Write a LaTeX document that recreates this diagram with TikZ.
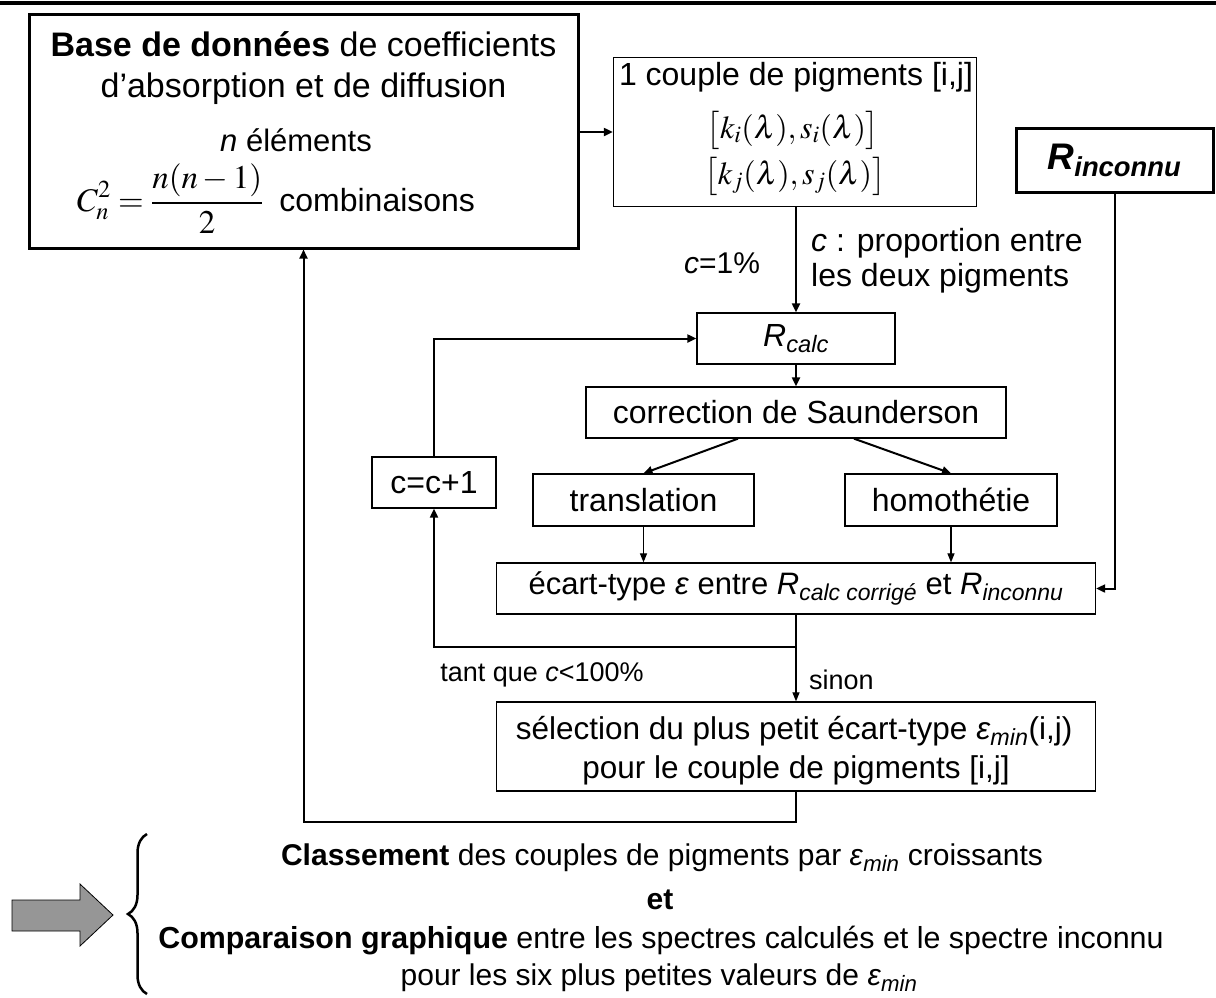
\documentclass[tikz,border=0pt]{standalone}
\usepackage{mathptmx}
\usepackage{fontspec}
\setmainfont{Liberation Sans}
\usetikzlibrary{arrows.meta,decorations.pathreplacing}
\definecolor{arrgray}{RGB}{150,150,150}
\newcommand\mysub[1]{\textsubscript{\itshape #1}}
\newcommand\myfs[1]{\fontsize{#1}{#1}\selectfont}
\begin{document}
\begin{tikzpicture}[x=1pt,y=-1pt,
 every node/.style={inner sep=0pt},
 thinbox/.style={draw, line width=1.3pt},
 thickbox/.style={draw, line width=3pt},
 conn/.style={line width=2pt, -{Triangle[length=9pt,width=8pt]}},
 thinconn/.style={line width=1.2pt, -{Triangle[length=9pt,width=7pt]}},
 t34/.style={font=\myfs{34}},
 t32/.style={font=\myfs{32}},
 t31/.style={font=\myfs{31}},
 t30/.style={font=\myfs{30}},
 t27/.style={font=\myfs{27}},
]
\useasboundingbox (0,0) rectangle (1216,997);
% top rule
\draw[line width=4pt] (0,2.5) -- (1216,2.5);

% database box
\node[thickbox, minimum width=549pt, minimum height=234pt] (base) at (303.5,131) {};
\node[t34] (b1) at (303.5,44) {\textbf{Base de données} de coefficients};
\node[t34] (b2) at (303.5,89) {d’absorption et de diffusion};
\node[t31] (b3) at (296,140) {\textit{n} éléments};
\node[font=\myfs{32}] (b4) at (276,199) {{\myfs{33}$\displaystyle C_n^2=\frac{n(n-1)}{2}$}\enspace combinaisons};

% couple box
\node[thinbox, minimum width=363pt, minimum height=149pt] (couple) at (795,132) {};
\node[t32] (c1) at (796,77) {1 couple de pigments [i,j]};
\node[t32] (c2) at (793,130) {$\bigl[k_i(\lambda),s_i(\lambda)\bigr]$};
\node[t32] (c3) at (795,176) {$\bigl[k_j(\lambda),s_j(\lambda)\bigr]$};

% R inconnu
\node[thickbox, minimum width=197pt, minimum height=64pt, font=\myfs{37}\bfseries\itshape] (R) at (1114.5,160) {R\textsubscript{inconnu}};

% flow boxes
\node[thinbox, minimum width=198pt, minimum height=51pt, t32] (Rcalc) at (796,338.5) {\textit{R}\mysub{calc}};
\node[thinbox, minimum width=420pt, minimum height=51pt, t32] (corr) at (796,412.5) {correction de Saunderson};
\node[thinbox, minimum width=221pt, minimum height=52pt, t32] (trans) at (643.5,500) {translation};
\node[thinbox, minimum width=212pt, minimum height=52pt, t32] (homo) at (951,500) {homothétie};
\node[thinbox, minimum width=124pt, minimum height=51pt, t32] (cc) at (434,482.5) {c=c+1};
\node[thinbox, minimum width=599pt, minimum height=51pt, t31] (ecart) at (796,588.5) {écart-type \textit{ε} entre \textit{R}\mysub{calc corrigé} et \textit{R}\mysub{inconnu}};
\node[thinbox, minimum width=599pt, minimum height=89pt] (sel) at (796,746.5) {};
\node[font=\myfs{31.5}] (s1) at (794,731) {sélection du plus petit écart-type \textit{ε}\mysub{min}(i,j)};
\node[font=\myfs{31.5}] (s2) at (796,770) {pour le couple de pigments [i,j]};

% labels
\node[t30] (lc1) at (722,263) {\textit{c}=1\%};
\node[t32, anchor=west] (lp1) at (811,243) {\textit{c} : proportion entre};
\node[t32, anchor=west] (lp2) at (811,278) {les deux pigments};
\node[t27] (ltant) at (542,675) {tant que \textit{c}<100\%};
\node[t27, anchor=west] (lsinon) at (809,680) {sinon};

% connectors
\coordinate (j1) at (796,647);
\coordinate (j2) at (796,822);
\draw[conn] (base.east |- couple.west) -- (couple.west);
\draw[conn] (couple.south -| Rcalc.north) -- (Rcalc.north);
\draw[conn] (Rcalc.south) -- (corr.north);
\draw[conn] ([xshift=-58pt]corr.south) -- (trans.north);
\draw[conn] ([xshift=58pt]corr.south) -- (homo.north);
\draw[thinconn] (trans.south) -- (trans.south |- ecart.north);
\draw[thinconn] (homo.south) -- (homo.south |- ecart.north);
\draw[conn] (R.south) |- (ecart.east);
\draw[conn] (cc.north) |- (Rcalc.west);
\draw[conn] (ecart.south) -- (j1) -| (cc.south);
\draw[thinconn] (j1) -- (sel.north);
\draw[conn] (sel.south) -- (j2) -| (base.south);

% conclusion
\node[t30] (k1) at (662,858) {\textbf{Classement} des couples de pigments par \textit{ε}\mysub{min} croissants};
\node[t30] (k2) at (660,900) {\textbf{et}};
\node[font=\myfs{30.4}] (k3) at (661,941) {\textbf{Comparaison graphique} entre les spectres calculés et le spectre inconnu};
\node[t30] (k4) at (659,978) {pour les six plus petites valeurs de \textit{ε}\mysub{min}};

\draw[fill=arrgray, line width=0.8pt] (12,900) -- (80,900) -- (80,884) -- (113,915) -- (80,946) -- (80,931) -- (12,931) -- cycle;
\draw[line width=2.5pt, decorate, decoration={brace, amplitude=19pt}] (147,994) -- (147,834);
\end{tikzpicture}
\end{document}
